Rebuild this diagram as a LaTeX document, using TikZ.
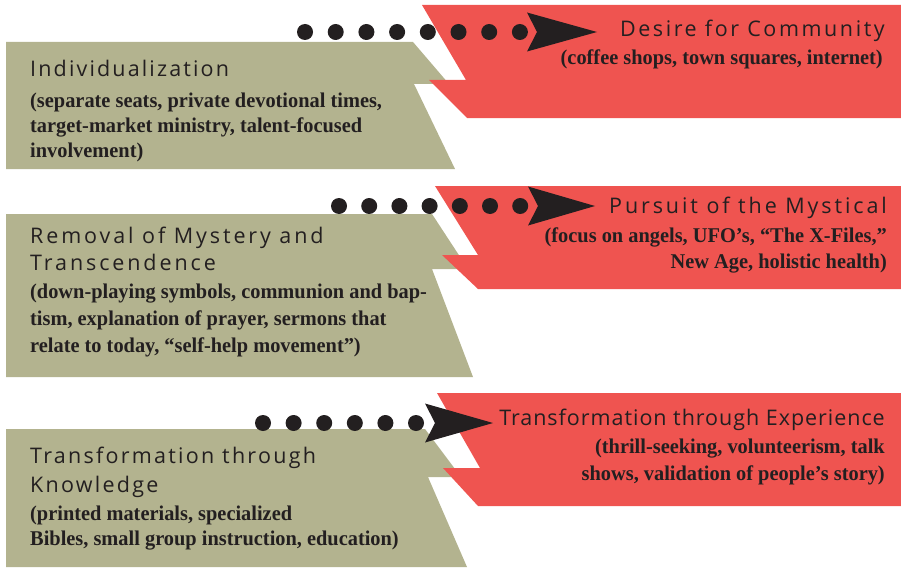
\documentclass[tikz,border=0pt]{standalone}
\usepackage{fontspec}
\setmainfont{Liberation Serif}
\newfontfamily\headfont[LetterSpace=11]{Open Sans}
\newfontfamily\bodyfont[FakeStretch=0.97]{Liberation Serif Bold}
\definecolor{sage}{RGB}{179,179,143}
\definecolor{coral}{RGB}{239,84,80}
\definecolor{ink}{RGB}{35,31,32}
\tikzset{
  head/.style={font=\headfont\fontsize{21.5}{28}\selectfont, text=ink, inner sep=0pt, align=left},
  headr/.style={head, align=right},
  track/.style={font=\headfont\fontsize{21.5}{28}\selectfont\addfontfeature{LetterSpace=#1}},
  body/.style={font=\bodyfont\fontsize{21}{26}\selectfont, text=ink, inner sep=0pt, align=left},
  bodyr/.style={body, align=right},
  dot/.style={circle, fill=ink, minimum size=16pt, inner sep=0pt},
  tiphead/.style={fill=ink},
  greenbox/.style={fill=sage},
  redbox/.style={fill=coral},
}
\begin{document}
\begin{tikzpicture}[x=1pt,y=-1pt]
\useasboundingbox (0,0) rectangle (901,567);
% green shapes
\fill[greenbox] (6,42) -- (413,42) -- (449,84) -- (414,84) -- (455,169) -- (6,169) -- cycle;
\fill[greenbox] (6,214) -- (432,214) -- (468,269) -- (432,269) -- (473,377) -- (6,377) -- cycle;
\fill[greenbox] (6,429) -- (425,429) -- (461,477) -- (428,477) -- (467,567) -- (6,567) -- cycle;
% red shapes
\fill[redbox] (422,5) -- (901,5) -- (901,118) -- (467,118) -- (429,80) -- (466,80) -- cycle;
\fill[redbox] (435,186) -- (901,186) -- (901,289) -- (478,289) -- (442,255) -- (478,255) -- cycle;
\fill[redbox] (437,393) -- (901,393) -- (901,506) -- (478,506) -- (443,468) -- (480,468) -- cycle;
% texts, green (multi-line nodes anchored at the baseline of their last line)
\node[head, track=10, anchor=base west] (g1h) at (30,77) {Individualization};
\node[body, anchor=base west, font=\bodyfont\fontsize{21}{25}\selectfont] (g1b) at (30,157) {(separate seats, private devotional times,\\target-market ministry, talent-focused\\involvement)};
\node[head, anchor=base west, font=\headfont\fontsize{21.5}{27}\selectfont\addfontfeature{LetterSpace=13.5}] (g2h) at (30,270) {Removal of Mystery and\\Transcendence};
\node[body, anchor=base west, font=\bodyfont\fontsize{21}{27}\selectfont] (g2b) at (30,352) {(down-playing symbols, communion and bap-\\tism, explanation of prayer, sermons that\\relate to today, “self-help movement”)};
\node[head, anchor=base west, font=\headfont\fontsize{21.5}{29}\selectfont\addfontfeature{LetterSpace=10.5}] (g3h) at (30,492) {Transformation through\\Knowledge};
\node[body, anchor=base west, font=\bodyfont\fontsize{21}{25}\selectfont] (g3b) at (30,545) {(printed materials, specialized\\Bibles, small group instruction, education)};
% texts, red
\node[headr, track=12, anchor=base east] (r1h) at (885,37) {Desire for Community};
\node[bodyr, anchor=base east] (r1b) at (883,65) {(coffee shops, town squares, internet)};
\node[headr, track=13.5, anchor=base east] (r2h) at (887,213) {Pursuit of the Mystical};
\node[bodyr, anchor=base east] (r2b) at (887,268) {(focus on angels, UFO’s, “The X-Files,”\\New Age, holistic health)};
\node[headr, track=4.5, anchor=base east] (r3h) at (885,425) {Transformation through Experience};
\node[bodyr, anchor=base east, font=\bodyfont\fontsize{21}{27}\selectfont] (r3b) at (885,480) {(thrill-seeking, volunteerism, talk\\shows, validation of people’s story)};
% connectors: dotted lines with arrowheads
\coordinate (s1) at (305,32);
\coordinate (t1) at (597,32);
\coordinate (s2) at (339,206);
\coordinate (t2) at (595,206);
\coordinate (s3) at (263,423);
\coordinate (t3) at (493,423);
\foreach \i in {0,...,7} \path (s1) ++(\i*30.7,0) node[dot] (da\i) {};
\foreach \i in {0,...,6} \path (s2) ++(\i*30.2,0) node[dot] (db\i) {};
\foreach \i in {0,...,5} \path (s3) ++(\i*30.6,0) node[dot] (dc\i) {};
\fill[tiphead] (t1) -- ++(-70,-19.5) -- ++(10,19.5) -- ++(-10,19.5) -- cycle;
\fill[tiphead] (t2) -- ++(-67,-19.5) -- ++(10,19.5) -- ++(-10,19.5) -- cycle;
\fill[tiphead] (t3) -- ++(-68,-19.5) -- ++(10,19.5) -- ++(-10,19.5) -- cycle;
\end{tikzpicture}
\end{document}
